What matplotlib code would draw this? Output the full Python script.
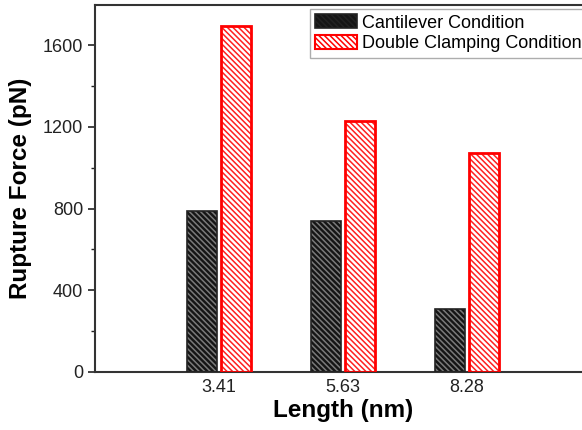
import numpy as np
import matplotlib
matplotlib.use("Agg")
import matplotlib.pyplot as plt
from matplotlib.patches import Patch

lengths = ["3.41", "5.63", "8.28"]
cantilever = [790, 738, 308]
double_clamp = [1692, 1228, 1072]

plt.rcParams["font.family"] = ["Liberation Sans", "DejaVu Sans"]
plt.rcParams["hatch.linewidth"] = 1.1

HATCH = "\\\\\\\\\\\\"

fig = plt.figure(figsize=(5.82, 4.3), dpi=100)
ax = fig.add_axes([95 / 582, 58 / 430, 496 / 582, 367 / 430])

x = np.arange(1, len(lengths) + 1)
w = 0.24
off = 0.137

# black bars: dark fill with grey hatch, then black outline on top
ax.bar(x - off, cantilever, w, color="#151515", edgecolor="#7a7a7a",
       hatch=HATCH, lw=0, zorder=2)
ax.bar(x - off, cantilever, w, fill=False, edgecolor="#222222", lw=1.2, zorder=3)

# red bars: white fill with red hatch
ax.bar(x + off, double_clamp, w, color="white", edgecolor="#ff2020",
       hatch=HATCH, lw=0, zorder=2)
ax.bar(x + off, double_clamp, w, fill=False, edgecolor="#ff0000", lw=2.0, zorder=3)

ax.set_xlim(0, 4)
ax.set_ylim(0, 1796)
ax.set_xticks(x)
ax.set_xticklabels(lengths)
ax.set_yticks([0, 400, 800, 1200, 1600])
ax.set_yticks([200, 600, 1000, 1400], minor=True)
ax.tick_params(axis="x", length=0, labelsize=13, pad=5, colors="#222222")
ax.tick_params(axis="y", which="major", direction="out", length=5, width=1.2,
               labelsize=13, colors="#222222")
ax.tick_params(axis="y", which="minor", direction="out", length=3, width=1.0,
               colors="#222222")
for s in ax.spines.values():
    s.set_linewidth(1.5)
    s.set_color("#333333")

ax.set_xlabel("Length (nm)", fontsize=17.5, fontweight="bold", labelpad=2)
ax.set_ylabel("Rupture Force (pN)", fontsize=17.5, fontweight="bold", labelpad=8)

handles = [
    Patch(facecolor="#151515", edgecolor="#222222", hatch=HATCH, lw=1.2,
          label="Cantilever Condition"),
    Patch(facecolor="white", edgecolor="#ff0000", hatch=HATCH, lw=1.5,
          label="Double Clamping Condition"),
]
leg = fig.legend(handles=handles, loc="upper left",
                 bbox_to_anchor=(310 / 582, 1 - 9 / 430),
                 bbox_transform=fig.transFigure, fontsize=13, frameon=True,
                 fancybox=False, edgecolor="#999999", borderaxespad=0,
                 handlelength=2.3, handleheight=0.8, handletextpad=0.3,
                 labelspacing=0.2, borderpad=0.3)
leg.get_frame().set_linewidth(1.0)

fig.savefig("out.png", dpi=100)
